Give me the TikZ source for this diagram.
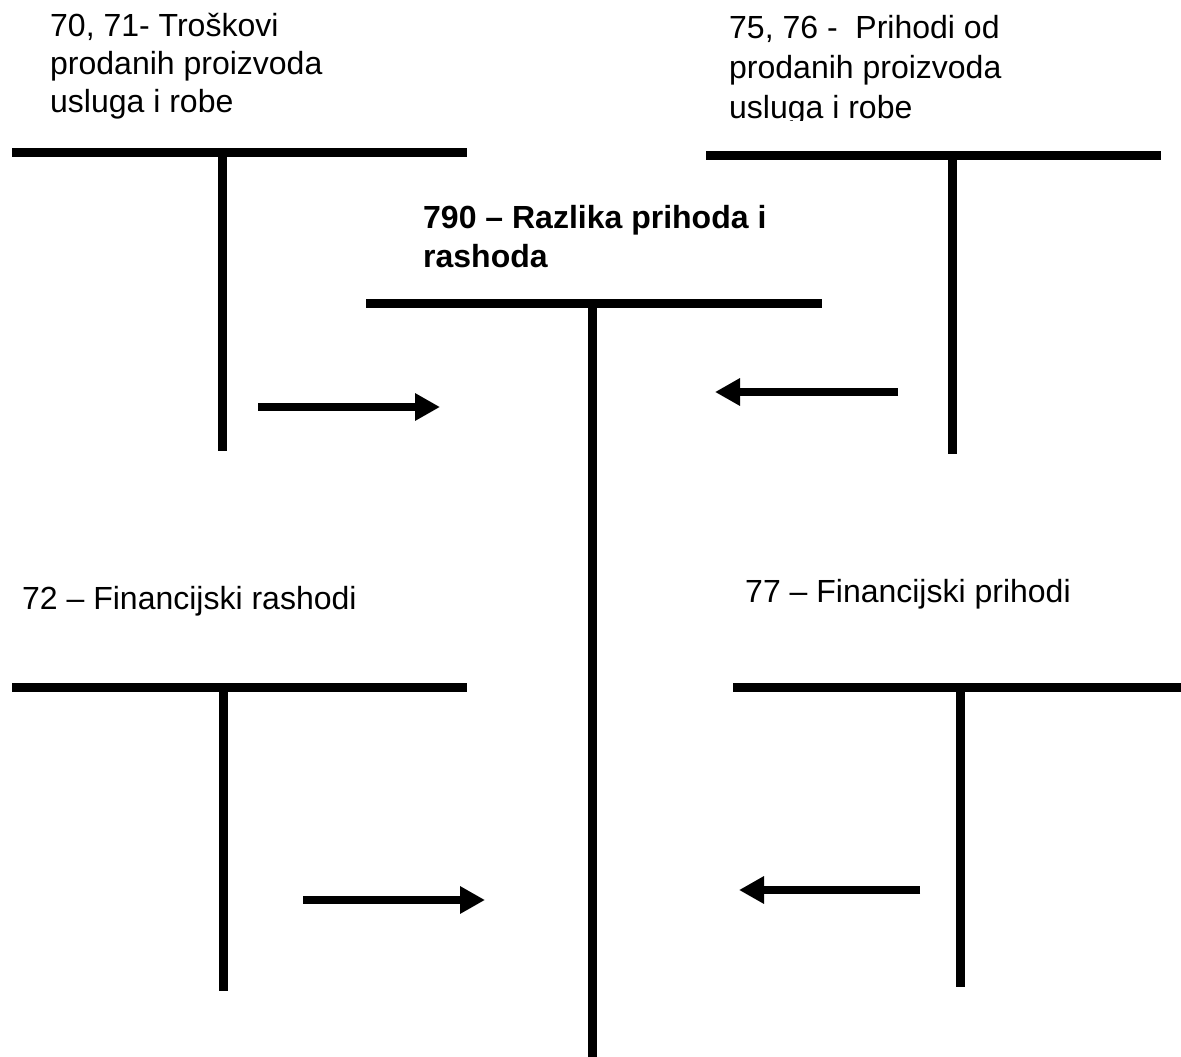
\documentclass[tikz,border=0pt]{standalone}
\usepackage{fontspec}
\setmainfont{Liberation Sans}
\usetikzlibrary{arrows.meta}
\tikzset{
  lbl/.style={anchor=base west, inner sep=0pt, align=left, font=\fontsize{32}{38.5}\selectfont},
  acct/.style={line width=9pt, line cap=butt},
  flow/.style={line width=8pt, -{Triangle[length=25pt,width=26pt]}},
}
\begin{document}
\begin{tikzpicture}[x=1pt,y=-1pt]
\useasboundingbox[fill=white] (0,0) rectangle (1181,1057);
% texts (base anchor = baseline of the last line)
\node[lbl] (t1) at (50,113) {70, 71- Troškovi\\prodanih proizvoda\\usluga i robe};
\begin{scope}
\clip (700,0) rectangle (1181,120.5);
\node[lbl, font=\fontsize{32}{40}\selectfont] (t2) at (729,118) {75, 76 -\ \ Prihodi od\\prodanih proizvoda\\usluga i robe};
\end{scope}
\node[lbl, font=\fontsize{32}{39}\selectfont\bfseries] (t0) at (423,267) {790 – Razlika prihoda i\\rashoda};
\node[lbl] (t3) at (22,609) {72 – Financijski rashodi};
\node[lbl] (t4) at (745,602) {77 – Financijski prihodi};
% T accounts
\coordinate (a1l) at (12,152); \coordinate (a1r) at (467,152);
\coordinate (a1t) at (222,152); \coordinate (a1b) at (222,451);
\draw[acct] (a1l) -- (a1r); \draw[acct] (a1t) -- (a1b);
\coordinate (a2l) at (706,155); \coordinate (a2r) at (1161,155);
\coordinate (a2t) at (952,155); \coordinate (a2b) at (952,454);
\draw[acct] (a2l) -- (a2r); \draw[acct] (a2t) -- (a2b);
\coordinate (a0l) at (366,303); \coordinate (a0r) at (822,303);
\coordinate (a0t) at (592,303); \coordinate (a0b) at (592,1057);
\draw[acct] (a0l) -- (a0r); \draw[acct] (a0t) -- (a0b);
\coordinate (a3l) at (12,687); \coordinate (a3r) at (467,687);
\coordinate (a3t) at (223,687); \coordinate (a3b) at (223,991);
\draw[acct] (a3l) -- (a3r); \draw[acct] (a3t) -- (a3b);
\coordinate (a4l) at (733,687); \coordinate (a4r) at (1181,687);
\coordinate (a4t) at (960,687); \coordinate (a4b) at (960,987);
\draw[acct] (a4l) -- (a4r); \draw[acct] (a4t) -- (a4b);
% arrows
\coordinate (f1s) at (258,407); \coordinate (f1e) at (440,407);
\coordinate (f2s) at (898,392); \coordinate (f2e) at (715,392);
\coordinate (f3s) at (303,900); \coordinate (f3e) at (485,900);
\coordinate (f4s) at (920,890); \coordinate (f4e) at (739,890);
\draw[flow] (f1s) -- (f1e);
\draw[flow] (f2s) -- (f2e);
\draw[flow] (f3s) -- (f3e);
\draw[flow] (f4s) -- (f4e);
\end{tikzpicture}
\end{document}
